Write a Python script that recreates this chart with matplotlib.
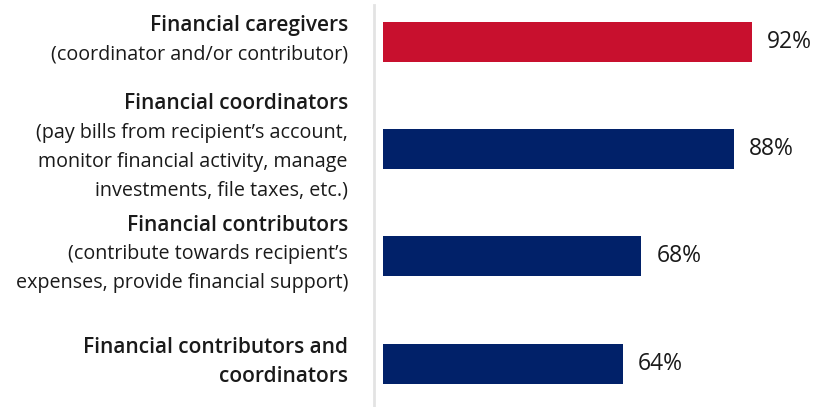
import matplotlib.pyplot as plt
from matplotlib.lines import Line2D

plt.rcParams["font.family"] = ["Open Sans", "DejaVu Sans"]

# Category headings (bold) and their descriptions (normal weight)
headings = [
    ["Financial caregivers"],
    ["Financial coordinators"],
    ["Financial contributors"],
    ["Financial contributors and", "coordinators"],
]
details = [
    ["(coordinator and/or contributor)"],
    ["(pay bills from recipient\u2019s account,",
     "monitor financial activity, manage",
     "investments, file taxes, etc.)"],
    ["(contribute towards recipient\u2019s",
     "expenses, provide financial support)"],
    [],
]
values = [92, 88, 68, 64]
colors = ["#C8102E", "#012169", "#012169", "#012169"]

W, H = 831, 407
fig = plt.figure(figsize=(W / 100, H / 100), dpi=100)

# plot area starts where the bars start; value axis does not start at 0
ax_left = 383
ax = fig.add_axes([ax_left / W, 0, (W - ax_left) / W, 1])

px_per_unit = 4.62
xmin = 12.1
ax.set_xlim(xmin, xmin + (W - ax_left) / px_per_unit)

step = 107.17  # pixels between bar centres
ax.set_ylim(3 + 43.5 / step, -42 / step)

ypos = range(len(values))
ax.barh(ypos, values, height=40 / step, color=colors)

for y, v in zip(ypos, values):
    ax.text(v + 15 / px_per_unit, y, f"{v}%", va="center", ha="left",
            fontsize=16.5, color="#1a1a1a")

# multi-line labels, bold heading then normal description
line_step = 29 / step
label_x = xmin + (348 - ax_left) / px_per_unit
for y, head, det in zip(ypos, headings, details):
    lines = [(t, "semibold") for t in head] + [(t, "normal") for t in det]
    n = len(lines)
    for k, (txt, wt) in enumerate(lines):
        ly = y + (k - (n - 1) / 2) * line_step - 2 / step
        ax.text(label_x, ly, txt, ha="right", va="center",
                fontsize=15 if wt == "semibold" else 14.2,
                fontweight=wt, color="#1a1a1a", clip_on=False)

# grey divider between labels and bars
fig.add_artist(Line2D([374 / W, 374 / W], [0, 1 - 5 / H], color="#e3e3e3",
                      linewidth=2, transform=fig.transFigure))

ax.axis("off")

fig.savefig("out.png", dpi=100)
